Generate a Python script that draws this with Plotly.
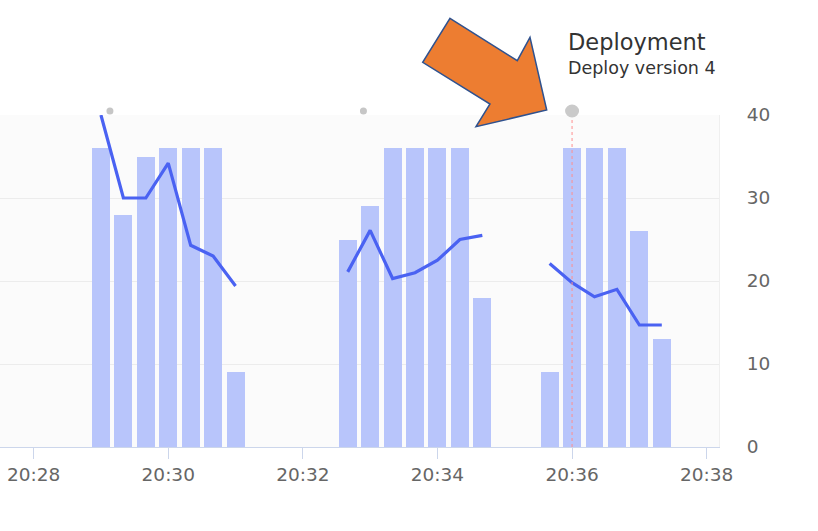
import plotly.graph_objects as go

DAY = "2024-01-01 "

# ---- data ----
bar_times_1 = ["20:29:00", "20:29:20", "20:29:40", "20:30:00", "20:30:20", "20:30:40", "20:31:00"]
bar_vals_1 = [36, 28, 35, 36, 36, 36, 9]
line_vals_1 = [40, 30, 30, 34.2, 24.3, 23, 19.4]

bar_times_2 = ["20:32:40", "20:33:00", "20:33:20", "20:33:40", "20:34:00", "20:34:20", "20:34:40"]
bar_vals_2 = [25, 29, 36, 36, 36, 36, 18]
line_vals_2 = [21.1, 26.1, 20.3, 21.0, 22.5, 25.0, 25.5]

bar_times_3 = ["20:35:40", "20:36:00", "20:36:20", "20:36:40", "20:37:00", "20:37:20"]
bar_vals_3 = [9, 36, 36, 36, 26, 13]
line_vals_3 = [22.1, 19.8, 18.1, 19.0, 14.7, 14.7]

event_times = ["20:29:08", "20:32:54"]
deploy_time = "20:36:00"

deploy_title = "Deployment"
deploy_text = "Deploy version 4"

x_range = ["20:27:30", "20:38:11"]
y_ticks = [0, 10, 20, 30, 40]

# ---- layout geometry (pixels) ----
W, H = 818, 531
M_L, M_R, M_T, M_B = 0, 99, 115, 84
PW, PH = W - M_L - M_R, H - M_T - M_B


def px(xp):
    return (xp - M_L) / PW


def py(yp):
    return (H - M_B - yp) / PH


def ts(lst):
    return [DAY + t for t in lst]


BAR_COLOR = "#b8c5fb"
LINE_COLOR = "#4a62f2"
FONT = "DejaVu Sans"

fig = go.Figure()

bar_x = ts(bar_times_1) + ts(bar_times_2) + ts(bar_times_3)
bar_y = bar_vals_1 + bar_vals_2 + bar_vals_3
fig.add_trace(go.Bar(x=bar_x, y=bar_y, width=16000, marker=dict(color=BAR_COLOR, line=dict(width=0)),
                     hoverinfo="x+y"))

line_x = ts(bar_times_1) + [None] + ts(bar_times_2) + [None] + ts(bar_times_3)
line_y = line_vals_1 + [None] + line_vals_2 + [None] + line_vals_3
fig.add_trace(go.Scatter(x=line_x, y=line_y, mode="lines", connectgaps=False,
                         line=dict(color=LINE_COLOR, width=3.2)))

# deployment plot line
fig.add_shape(type="line", xref="x", yref="paper", x0=DAY + deploy_time, x1=DAY + deploy_time,
              y0=0, y1=1, line=dict(color="#ff8f8f", width=1, dash="dot"), layer="above")

# event markers above the plot (x on the time axis, fixed pixel size)
marker_y = py(111)
for t in event_times:
    fig.add_shape(type="circle", xref="x", yref="paper", xsizemode="pixel", ysizemode="pixel",
                  xanchor=DAY + t, yanchor=marker_y, x0=-3.5, x1=3.5, y0=-3.5, y1=3.5,
                  fillcolor="#c6c6c6", line=dict(width=0), layer="above")
fig.add_shape(type="circle", xref="x", yref="paper", xsizemode="pixel", ysizemode="pixel",
              xanchor=DAY + deploy_time, yanchor=marker_y, x0=-7, x1=7, y0=-6.5, y1=6.5,
              fillcolor="#cacaca", line=dict(width=0), layer="above")

# orange arrow callout (pixel outline converted to paper coordinates)
arrow_px = [(450, 18.3), (517.3, 60.7), (530, 37.3), (546.7, 110), (476, 126.7), (490, 104), (422.7, 62.3)]
path = "M " + " L ".join(f"{px(a):.5f},{py(b):.5f}" for a, b in arrow_px) + " Z"
fig.add_shape(type="path", xref="paper", yref="paper", path=path,
              fillcolor="#ed7d31", line=dict(color="#2f528f", width=1.5), layer="above")

fig.add_annotation(xref="paper", yref="paper", x=px(566), y=py(42), xanchor="left", yanchor="middle",
                   text=deploy_title, showarrow=False, font=dict(family=FONT, size=22.5, color="#333333"))
fig.add_annotation(xref="paper", yref="paper", x=px(566), y=py(68), xanchor="left", yanchor="middle",
                   text=deploy_text, showarrow=False, font=dict(family=FONT, size=17.5, color="#333333"))

fig.update_layout(
    width=W, height=H,
    margin=dict(l=M_L, r=M_R, t=M_T, b=M_B, pad=0),
    paper_bgcolor="white", plot_bgcolor="#fbfbfb",
    showlegend=False, bargap=0,
    font=dict(family=FONT, size=18, color="#666666"),
    xaxis=dict(type="date", range=ts(x_range), tickformat="%H:%M", dtick=120000,
               tick0=DAY + "20:28:00", showgrid=False, showline=True, linecolor="#ccd6eb", linewidth=1,
               ticks="outside", ticklen=11, tickcolor="#ccd6eb", tickwidth=1,
               tickfont=dict(family=FONT, size=18.5, color="#666666"), zeroline=False),
    yaxis=dict(side="right", range=[0, 40], tickvals=y_ticks, showgrid=True, gridcolor="#ececec",
               gridwidth=1, zeroline=False, showline=True, linecolor="#efefef", linewidth=1,
               ticks="", ticklabelstandoff=23,
               tickfont=dict(family=FONT, size=18.5, color="#666666")),
)

fig.write_html("out.html")
